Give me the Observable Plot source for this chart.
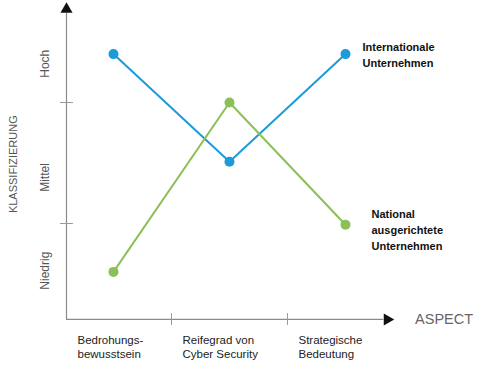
<!DOCTYPE html>
<html>
<head>
<meta charset="utf-8">
<script src="https://cdn.jsdelivr.net/npm/d3@7"></script>
<script src="https://cdn.jsdelivr.net/npm/@observablehq/plot@0.6"></script>
<style>
  html, body { margin: 0; padding: 0; background: #fff; }
</style>
</head>
<body>
<div id="chart"></div>
<script>
// ---- data ----
const aspects = ["Bedrohungs-\nbewusstsein", "Reifegrad von\nCyber Security", "Strategische\nBedeutung"];
const international = [2.40, 1.51, 2.40];
const national = [0.60, 2.00, 0.99];
const seriesKeys = ["Internationale", "National"];
const seriesLabels = ["Internationale\nUnternehmen", "National\nausgerichtete\nUnternehmen"];
const seriesColors = ["#1b9bd7", "#8dbf58"];
const levels = ["Niedrig", "Mittel", "Hoch"];
const levelPos = [0.61, 1.38, 2.32];
const yTicks = [1, 2];
const yTitle = "KLASSIFIZIERUNG";
const xTitle = "ASPECT";

// ---- derived ----
const rows = [];
aspects.forEach((a, i) => {
  rows.push({i, series: seriesKeys[0], v: international[i]});
  rows.push({i, series: seriesKeys[1], v: national[i]});
});
const xStart = -0.405, xEnd = 2.33, yBase = 0.207, yTop = 2.74;
const boundaries = [xStart, 0.5, 1.5];
const catLabels = aspects.map((a, i) => ({x: boundaries[i], text: a}));
const lastInt = {x: 2, y: international[2], text: seriesLabels[0]};
const lastNat = {x: 2, y: national[2], text: seriesLabels[1]};
const levelRows = levels.map((l, i) => ({y: levelPos[i], text: l}));

const chart = Plot.plot({
  width: 480,
  height: 367,
  marginLeft: 66,
  marginRight: 19,
  marginTop: 0,
  marginBottom: 23,
  x: {domain: [xStart, 3.0], axis: null},
  y: {domain: [0, 2.843], axis: null},
  color: {domain: seriesKeys, range: seriesColors},
  style: {fontFamily: "'Liberation Sans', Arial, sans-serif", background: "#fff", overflow: "visible"},
  marks: [
    // axes
    Plot.ruleY([yBase], {x1: xStart, x2: xEnd, stroke: "#8a8a8a", strokeWidth: 1.2}),
    Plot.ruleX([xStart], {y1: yBase, y2: yTop, stroke: "#8a8a8a", strokeWidth: 1.2}),
    Plot.ruleY(yTicks, {x1: -0.457, x2: -0.345, stroke: "#9a9a9a"}),
    Plot.ruleX([0.5, 1.5], {y1: 0.157, y2: 0.256, stroke: "#9a9a9a"}),
    Plot.dot([0], {x: xStart, y: 2.77, symbol: "triangle", r: 4.5, fill: "#111"}),
    Plot.dot([0], {x: 2.36, y: yBase, symbol: "triangle", r: 4.5, fill: "#111", rotate: 90}),
    // level labels
    Plot.text(levelRows, {x: -0.586, y: "y", text: "text", rotate: -90, fontSize: 12, fill: "#555", ariaLabel: "levels"}),
    Plot.text([yTitle], {x: -0.862, y: 1.49, text: d => d, rotate: -90, fontSize: 11, fill: "#555"}),
    Plot.text([xTitle], {x: 2.6, y: yBase, text: d => d, textAnchor: "start", fontSize: 14.5, fill: "#666"}),
    // category labels
    Plot.text(catLabels, {x: "x", y: yBase, text: "text", textAnchor: "start", lineAnchor: "top", dx: 11, dy: 14, fontSize: 11.5, fill: "#222", lineHeight: 1.25}),
    // series
    Plot.line(rows, {x: "i", y: "v", z: "series", stroke: "series", strokeWidth: 2}),
    Plot.dot(rows, {x: "i", y: "v", fill: "series", r: 5}),
    Plot.text([lastInt], {x: "x", y: "y", text: "text", textAnchor: "start", dx: 17, dy: 0, fontSize: 11, fontWeight: "bold", fill: "#111", lineHeight: 1.45}),
    Plot.text([lastNat], {x: "x", y: "y", text: "text", textAnchor: "start", dx: 26, dy: 4, fontSize: 11, fontWeight: "bold", fill: "#111", lineHeight: 1.45})
  ]
});
document.getElementById("chart").appendChild(chart);
d3.select(chart).selectAll('g[aria-label="levels"] text').style("letter-spacing", "2px");
</script>
</body>
</html>
